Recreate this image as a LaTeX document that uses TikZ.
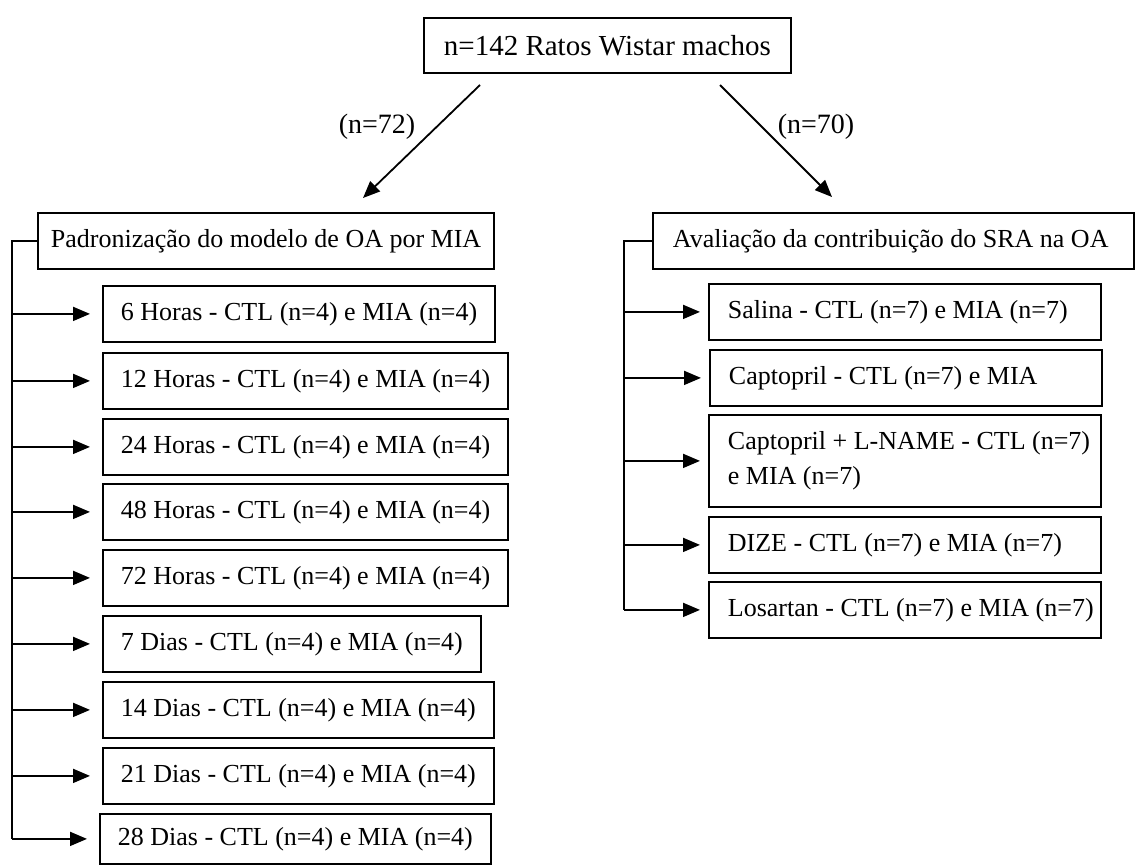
\documentclass[tikz,border=0pt]{standalone}
\usepackage{fontspec}
\setmainfont{Liberation Serif}
\usetikzlibrary{arrows.meta}
\newcommand{\natsp}{\spaceskip=0pt\xspaceskip=0pt\relax}
\begin{document}
\begin{tikzpicture}[x=1pt,y=-1pt,
  bx/.style={draw, line width=1.8pt, anchor=north west, inner ysep=0pt, font=\fontsize{26}{35}\selectfont},
  lbox/.style={bx, inner xsep=18pt, minimum height=56pt},
  rbox/.style={bx, inner xsep=19pt, text width=354pt, align=left, minimum height=56pt},
  arr/.style={line width=1.8pt, -{Triangle[length=17pt,width=14pt]}},
  ln/.style={line width=1.8pt},
  lbl/.style={font=\fontsize{28}{32}\selectfont}]
\useasboundingbox (0,0) rectangle (1135,865);

% top
\node[bx, inner xsep=20pt, minimum height=55pt, font=\fontsize{29}{34}\selectfont] (top) at (423,17) {n=142 Ratos Wistar machos};
\coordinate (a1s) at (480,85);
\coordinate (a1e) at (363,198);
\coordinate (a2s) at (720,85);
\coordinate (a2e) at (832,197);
\draw[arr] (a1s) -- (a1e);
\draw[arr] (a2s) -- (a2e);
\node[lbl] (l72) at (377,127) {(n=72)};
\node[lbl] (l70) at (816,127) {(n=70)};

% left panel
\coordinate (tl) at (12,0);
\node[bx, inner xsep=13pt, minimum height=56pt] (hl) at (37,212) {Padronização do modelo de OA por MIA};
\foreach \yy/\xx/\hh/\lab [count=\i] in {285/102/56/6 Horas, 352/102/56/12 Horas, 418/102/56/24 Horas, 483/102/56/48 Horas, 549/102/56/72 Horas, 615/102/56/7 Dias, 681/102/56/14 Dias, 747/102/56/21 Dias, 813/99/50/28 Dias}{
  \node[lbox, minimum height=\hh pt] (b\i) at (\xx,\yy) {\lab{} - CTL (n=4) e MIA (n=4)};
  \draw[arr, shorten >=12pt] (b\i.west -| tl) -- (b\i.west);
}
\draw[ln] (hl.west) -| (b9.west -| tl);

% right panel
\coordinate (tr) at (624,0);
\node[bx, inner xsep=20pt, text width=441pt, align=left, minimum height=56pt] (hr) at (652,212) {\natsp\mbox{Avaliação da contribuição do SRA na OA}};
\node[rbox] (r1) at (708,283) {\natsp\mbox{Salina - CTL (n=7) e MIA (n=7)}};
\node[rbox] (r2) at (709,349) {\natsp\mbox{Captopril - CTL (n=7) e MIA}};
\node[rbox, minimum height=92pt] (r3) at (708,414) {\natsp\mbox{Captopril + L-NAME - CTL (n=7)}\\ \natsp e MIA (n=7)};
\node[rbox] (r4) at (708,516) {\natsp\mbox{DIZE - CTL (n=7) e MIA (n=7)}};
\node[rbox] (r5) at (708,581) {\natsp\mbox{Losartan - CTL (n=7) e MIA (n=7)}};
\foreach \i in {1,...,5}{
  \draw[arr, shorten >=8pt] (r\i.west -| tr) -- (r\i.west);
}
\draw[ln] (hr.west) -| (r5.west -| tr);
\end{tikzpicture}
\end{document}
